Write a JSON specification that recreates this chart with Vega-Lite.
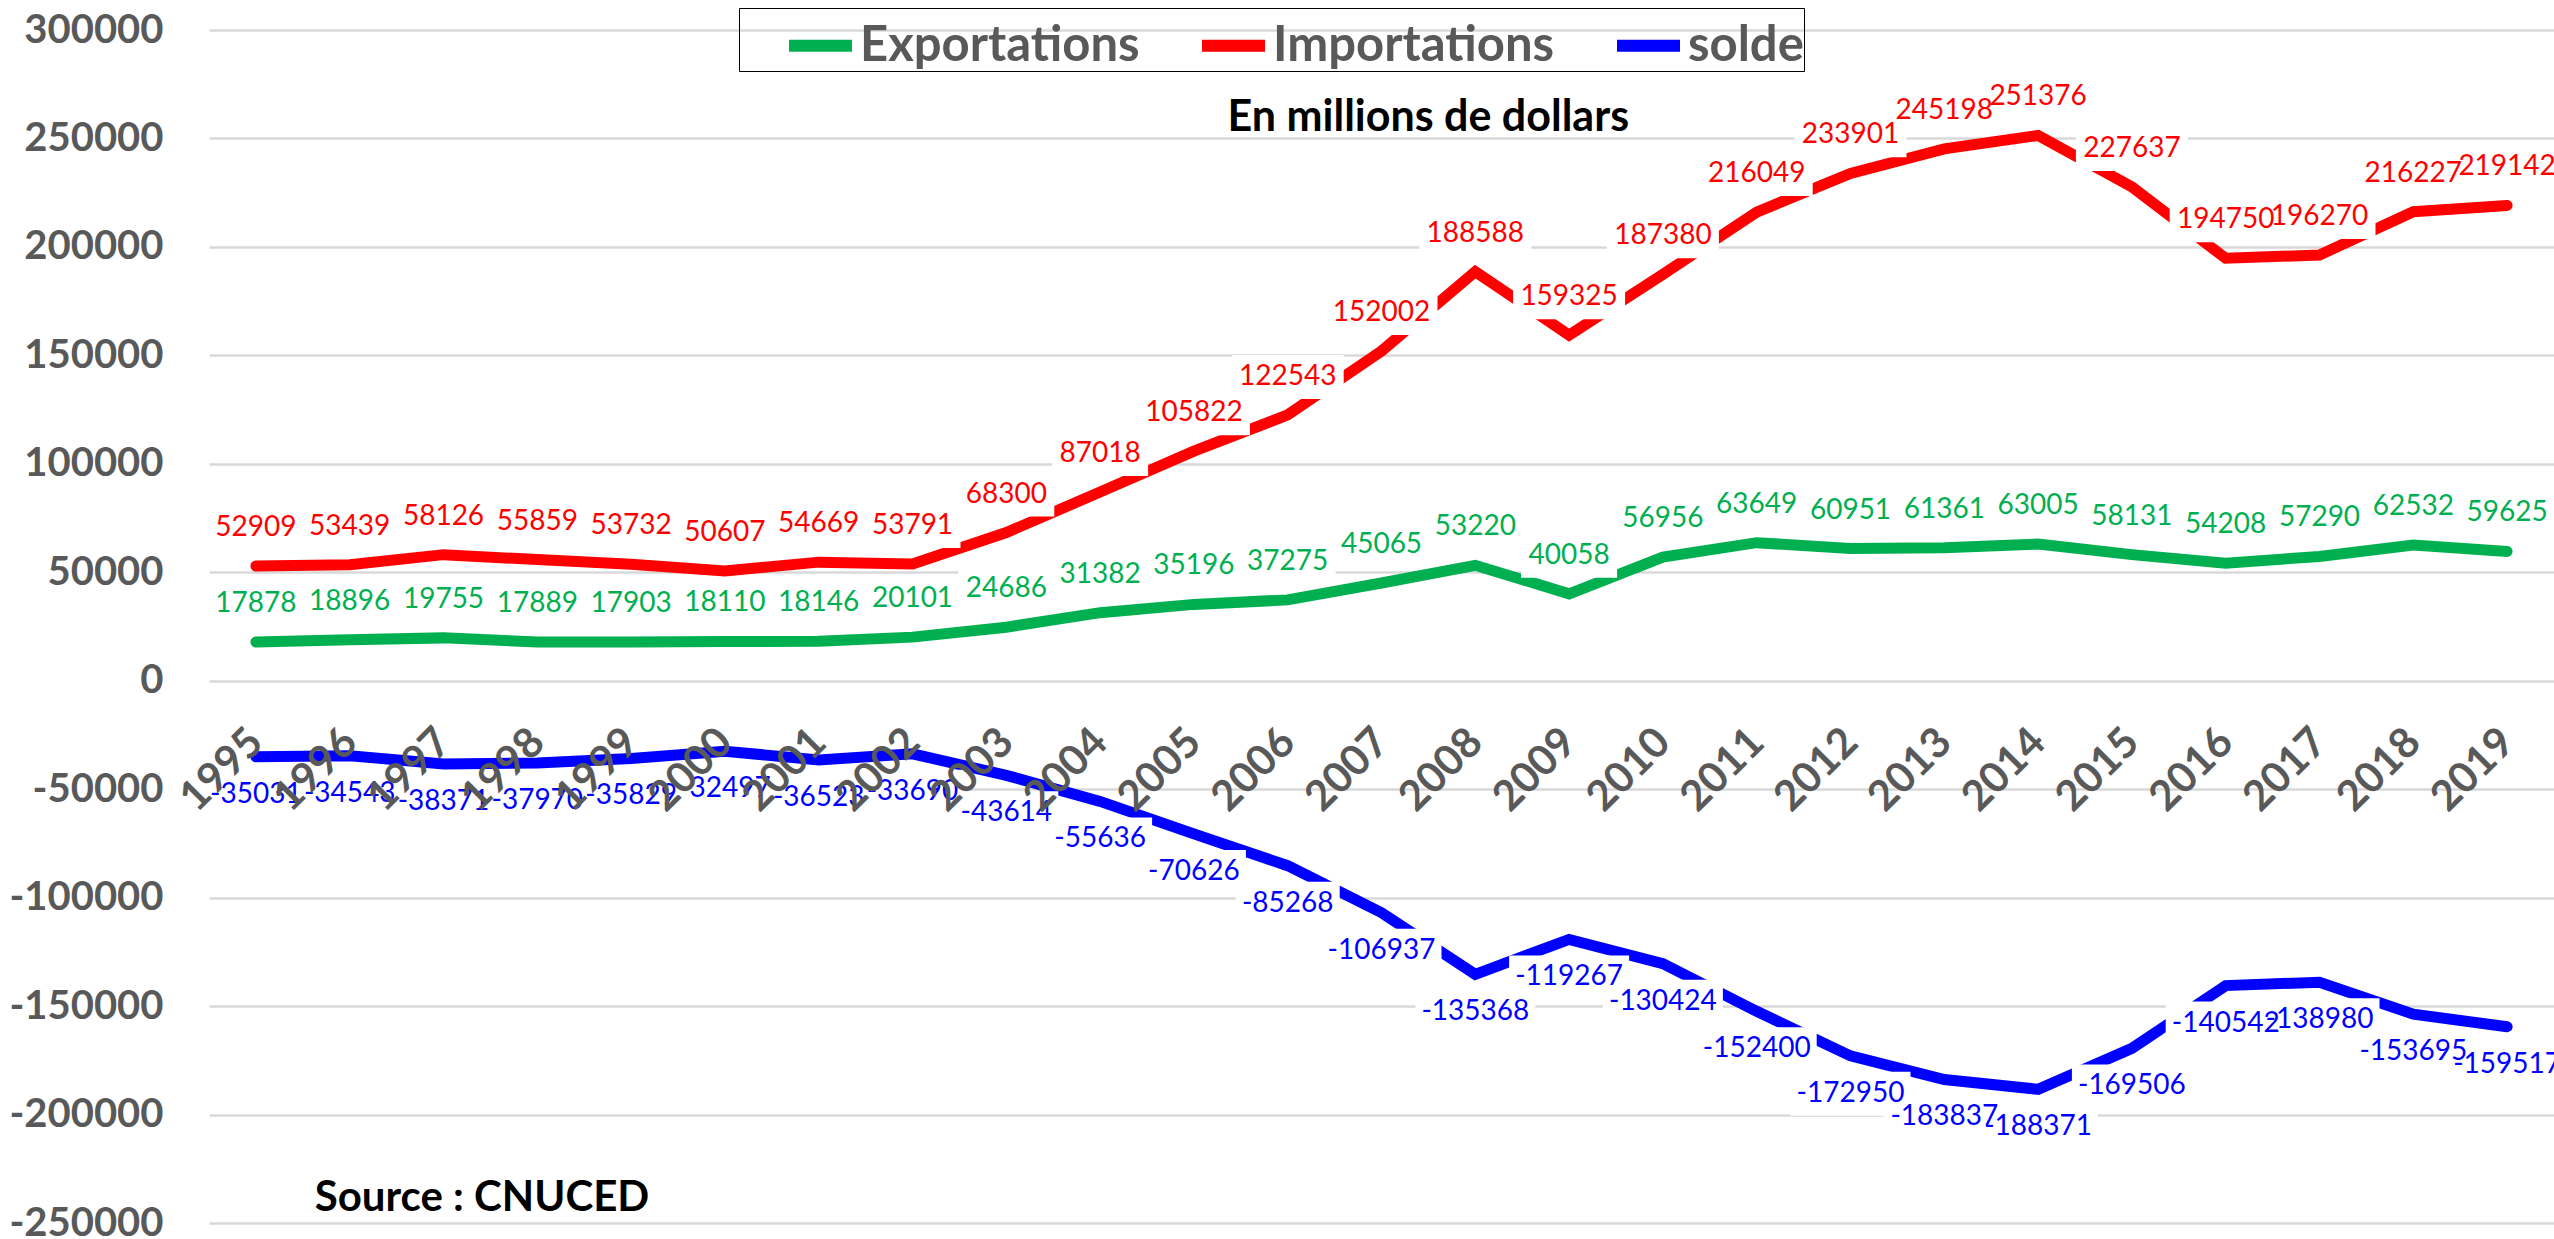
{
  "$schema": "https://vega.github.io/schema/vega-lite/v6.json",
  "width": 2345,
  "height": 1193,
  "autosize": {"type": "none"},
  "padding": {"left": 209, "top": 30, "right": 0, "bottom": 16},
  "background": "white",
  "config": {"view": {"stroke": null}, "font": "Lato"},
  "data": {"values": [
    {"year": "1995", "series": "Exportations", "value": 17878},
    {"year": "1996", "series": "Exportations", "value": 18896},
    {"year": "1997", "series": "Exportations", "value": 19755},
    {"year": "1998", "series": "Exportations", "value": 17889},
    {"year": "1999", "series": "Exportations", "value": 17903},
    {"year": "2000", "series": "Exportations", "value": 18110},
    {"year": "2001", "series": "Exportations", "value": 18146},
    {"year": "2002", "series": "Exportations", "value": 20101},
    {"year": "2003", "series": "Exportations", "value": 24686},
    {"year": "2004", "series": "Exportations", "value": 31382},
    {"year": "2005", "series": "Exportations", "value": 35196},
    {"year": "2006", "series": "Exportations", "value": 37275},
    {"year": "2007", "series": "Exportations", "value": 45065},
    {"year": "2008", "series": "Exportations", "value": 53220},
    {"year": "2009", "series": "Exportations", "value": 40058},
    {"year": "2010", "series": "Exportations", "value": 56956},
    {"year": "2011", "series": "Exportations", "value": 63649},
    {"year": "2012", "series": "Exportations", "value": 60951},
    {"year": "2013", "series": "Exportations", "value": 61361},
    {"year": "2014", "series": "Exportations", "value": 63005},
    {"year": "2015", "series": "Exportations", "value": 58131},
    {"year": "2016", "series": "Exportations", "value": 54208},
    {"year": "2017", "series": "Exportations", "value": 57290},
    {"year": "2018", "series": "Exportations", "value": 62532},
    {"year": "2019", "series": "Exportations", "value": 59625},
    {"year": "1995", "series": "Importations", "value": 52909},
    {"year": "1996", "series": "Importations", "value": 53439},
    {"year": "1997", "series": "Importations", "value": 58126},
    {"year": "1998", "series": "Importations", "value": 55859},
    {"year": "1999", "series": "Importations", "value": 53732},
    {"year": "2000", "series": "Importations", "value": 50607},
    {"year": "2001", "series": "Importations", "value": 54669},
    {"year": "2002", "series": "Importations", "value": 53791},
    {"year": "2003", "series": "Importations", "value": 68300},
    {"year": "2004", "series": "Importations", "value": 87018},
    {"year": "2005", "series": "Importations", "value": 105822},
    {"year": "2006", "series": "Importations", "value": 122543},
    {"year": "2007", "series": "Importations", "value": 152002},
    {"year": "2008", "series": "Importations", "value": 188588},
    {"year": "2009", "series": "Importations", "value": 159325},
    {"year": "2010", "series": "Importations", "value": 187380},
    {"year": "2011", "series": "Importations", "value": 216049},
    {"year": "2012", "series": "Importations", "value": 233901},
    {"year": "2013", "series": "Importations", "value": 245198},
    {"year": "2014", "series": "Importations", "value": 251376},
    {"year": "2015", "series": "Importations", "value": 227637},
    {"year": "2016", "series": "Importations", "value": 194750},
    {"year": "2017", "series": "Importations", "value": 196270},
    {"year": "2018", "series": "Importations", "value": 216227},
    {"year": "2019", "series": "Importations", "value": 219142},
    {"year": "1995", "series": "solde", "value": -35031},
    {"year": "1996", "series": "solde", "value": -34543},
    {"year": "1997", "series": "solde", "value": -38371},
    {"year": "1998", "series": "solde", "value": -37970},
    {"year": "1999", "series": "solde", "value": -35829},
    {"year": "2000", "series": "solde", "value": -32497},
    {"year": "2001", "series": "solde", "value": -36523},
    {"year": "2002", "series": "solde", "value": -33690},
    {"year": "2003", "series": "solde", "value": -43614},
    {"year": "2004", "series": "solde", "value": -55636},
    {"year": "2005", "series": "solde", "value": -70626},
    {"year": "2006", "series": "solde", "value": -85268},
    {"year": "2007", "series": "solde", "value": -106937},
    {"year": "2008", "series": "solde", "value": -135368},
    {"year": "2009", "series": "solde", "value": -119267},
    {"year": "2010", "series": "solde", "value": -130424},
    {"year": "2011", "series": "solde", "value": -152400},
    {"year": "2012", "series": "solde", "value": -172950},
    {"year": "2013", "series": "solde", "value": -183837},
    {"year": "2014", "series": "solde", "value": -188371},
    {"year": "2015", "series": "solde", "value": -169506},
    {"year": "2016", "series": "solde", "value": -140542},
    {"year": "2017", "series": "solde", "value": -138980},
    {"year": "2018", "series": "solde", "value": -153695},
    {"year": "2019", "series": "solde", "value": -159517}
  ]},
  "layer": [
    {
      "mark": {"type": "line", "strokeWidth": 11, "strokeCap": "round", "strokeJoin": "miter"},
      "encoding": {
        "x": {"field": "year", "type": "ordinal", "scale": {"type": "point", "padding": 0.5},
          "axis": {"orient": "bottom", "offset": -542, "domain": false, "ticks": false, "tickSize": 0, "grid": false,
            "labelAngle": -45, "labelAlign": "right", "labelBaseline": "middle", "labelPadding": 54,
            "labelFont": "Lato", "labelFontWeight": "bold", "labelFontSize": 42, "labelColor": "#595959",
            "labelOverlap": false, "title": null, "zindex": 1}},
        "y": {"field": "value", "type": "quantitative", "scale": {"domain": [-250000, 300000], "nice": false, "zero": false},
          "axis": {"values": [-250000, -200000, -150000, -100000, -50000, 0, 50000, 100000, 150000, 200000, 250000, 300000],
            "labelExpr": "'' + datum.value", "domain": false, "ticks": false, "tickSize": 0, "labelPadding": 46,
            "labelFont": "Lato", "labelFontWeight": "bold", "labelFontSize": 40, "labelColor": "#595959",
            "gridColor": "#d9d9d9", "gridWidth": 2.5, "title": null}},
        "color": {"field": "series", "type": "nominal",
          "scale": {"domain": ["Exportations", "Importations", "solde"], "range": ["#00B050", "#FF0000", "#0000FF"]},
          "legend": {"orient": "none", "legendX": 530, "legendY": -22, "direction": "horizontal",
            "title": "\u00a0", "titleOrient": "left", "titleFontSize": 10, "titlePadding": 44,
            "symbolType": "stroke", "symbolSize": 3969, "symbolStrokeWidth": 12,
            "labelFont": "Lato", "labelFontWeight": "bold", "labelFontSize": 49, "labelColor": "#595959", "labelLimit": 0,
            "labelExpr": "datum.label === 'solde' ? 'solde\u00a0\u00a0\u00a0\u00a0\u00a0\u00a0\u00a0\u00a0\u00a0' : datum.label",
            "labelOffset": 2, "columnPadding": 38, "strokeColor": "#000000", "padding": 0}}
      }
    },
    {
      "transform": [{"filter": "datum.series !== 'solde' && datum.value < 100000"}],
      "mark": {"type": "rect", "color": "white", "xOffset": -48, "x2Offset": 48, "yOffset": -60, "y2Offset": -16},
      "encoding": {
        "x": {"field": "year", "type": "ordinal"}, "x2": {"field": "year"},
        "y": {"field": "value", "type": "quantitative"}, "y2": {"field": "value"}
      }
    },
    {
      "transform": [{"filter": "datum.series === 'Importations' && datum.value >= 100000"}],
      "mark": {"type": "rect", "color": "white", "xOffset": -56, "x2Offset": 56, "yOffset": -60, "y2Offset": -16},
      "encoding": {
        "x": {"field": "year", "type": "ordinal"}, "x2": {"field": "year"},
        "y": {"field": "value", "type": "quantitative"}, "y2": {"field": "value"}
      }
    },
    {
      "transform": [{"filter": "datum.series === 'solde' && datum.value > -100000"}],
      "mark": {"type": "rect", "color": "white", "xOffset": -52, "x2Offset": 52, "yOffset": 16, "y2Offset": 60},
      "encoding": {
        "x": {"field": "year", "type": "ordinal"}, "x2": {"field": "year"},
        "y": {"field": "value", "type": "quantitative"}, "y2": {"field": "value"}
      }
    },
    {
      "transform": [{"filter": "datum.series === 'solde' && datum.value <= -100000"}],
      "mark": {"type": "rect", "color": "white", "xOffset": -60, "x2Offset": 60, "yOffset": 16, "y2Offset": 60},
      "encoding": {
        "x": {"field": "year", "type": "ordinal"}, "x2": {"field": "year"},
        "y": {"field": "value", "type": "quantitative"}, "y2": {"field": "value"}
      }
    },
    {
      "transform": [{"filter": "datum.series !== 'solde'"}],
      "mark": {"type": "text", "font": "Lato", "fontSize": 28, "baseline": "middle", "align": "center", "dy": -38},
      "encoding": {
        "x": {"field": "year", "type": "ordinal"},
        "y": {"field": "value", "type": "quantitative"},
        "text": {"field": "value", "type": "nominal"},
        "color": {"condition": {"test": "datum.series === 'Exportations'", "value": "#00B050"}, "value": "#FF0000"}
      }
    },
    {
      "transform": [{"filter": "datum.series === 'solde'"}],
      "mark": {"type": "text", "font": "Lato", "fontSize": 28, "baseline": "middle", "align": "center", "dy": 38, "color": "#0000FF"},
      "encoding": {
        "x": {"field": "year", "type": "ordinal"},
        "y": {"field": "value", "type": "quantitative"},
        "text": {"field": "value", "type": "nominal"}
      }
    },
    {
      "data": {"values": [{"note": "En millions de dollars"}]},
      "mark": {"type": "text", "font": "Lato", "fontWeight": "bold", "fontSize": 43, "color": "#000000", "align": "center", "baseline": "alphabetic", "dx": -47},
      "encoding": {
        "x": {"datum": "2008", "type": "ordinal"},
        "y": {"datum": 253500, "type": "quantitative"},
        "text": {"field": "note", "type": "nominal"}
      }
    },
    {
      "data": {"values": [{"note": "Source : CNUCED"}]},
      "mark": {"type": "text", "font": "Lato", "fontWeight": "bold", "fontSize": 42, "color": "#000000", "align": "left", "baseline": "alphabetic", "dx": -35},
      "encoding": {
        "x": {"datum": "1996", "type": "ordinal"},
        "y": {"datum": -244500, "type": "quantitative"},
        "text": {"field": "note", "type": "nominal"}
      }
    }
  ]
}
